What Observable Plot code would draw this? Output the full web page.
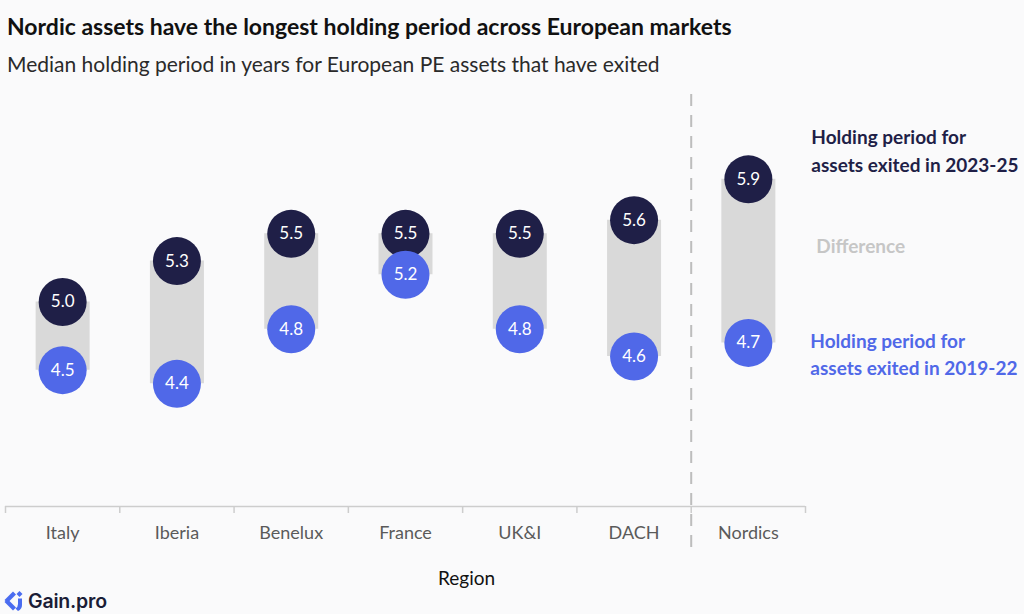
<!DOCTYPE html>
<html>
<head>
<meta charset="utf-8">
<script src="https://cdn.jsdelivr.net/npm/d3@7"></script>
<script src="https://cdn.jsdelivr.net/npm/@observablehq/plot@0.6"></script>
<style>
  html, body { margin: 0; padding: 0; background: #fafafb; }
  body { width: 1024px; height: 614px; position: relative; overflow: hidden; font-family: Lato, "Noto Sans", sans-serif; }
  #title { position: absolute; left: 7px; top: 12px; font-size: 23px; font-weight: 700; color: #111; white-space: nowrap; }
  #subtitle { position: absolute; left: 7px; top: 51px; font-size: 21px; color: #2a2a2a; white-space: nowrap; }
  #chart { position: absolute; left: 0; top: 84px; }
  #logo { position: absolute; left: 3px; top: 589px; display: flex; align-items: center; gap: 4px; }
  #logo span { font-family: Inter, Lato, sans-serif; font-weight: 600; font-size: 19.5px; color: #1b1d36; letter-spacing: -0.2px; }
</style>
</head>
<body>
<div id="title">Nordic assets have the longest holding period across European markets</div>
<div id="subtitle">Median holding period in years for European PE assets that have exited</div>
<div id="chart"></div>
<div id="logo">
  <svg width="21" height="22" viewBox="0 0 21 22">
    <path d="M10 1.5 L1.5 10 L4.5 13 L13 4.5 Z" fill="#4a6cf0"/>
    <path d="M1.5 12 L10 20.5 L13 17.5 L4.5 9 Z" fill="#4a6cf0"/>
    <path d="M16.5 1 L19.5 4 L16.5 7 L13.5 4 Z" fill="#4a6cf0"/>
    <path d="M15 8.5 L19 8.5 L19 15 Q19 19 15 21 L12.5 18.5 Q15 17 15 14 Z" fill="#4a6cf0"/>
  </svg>
  <span>Gain.pro</span>
</div>
<script>
// Median holding period (years) by region
const categories = ["Italy", "Iberia", "Benelux", "France", "UK&I", "DACH", "Nordics"];
const recent = [5.0, 5.3, 5.5, 5.5, 5.5, 5.6, 5.9];   // assets exited 2023-25
const earlier = [4.5, 4.4, 4.8, 5.2, 4.8, 4.6, 4.7];  // assets exited 2019-22

const legendRecent = "Holding period for\nassets exited in 2023-25";
const legendEarlier = "Holding period for\nassets exited in 2019-22";
const legendDiff = "Difference";
const axisTitle = "Region";

const navy = "#1f1f47";
const blue = "#5068e8";
const font = "Lato, 'Noto Sans', sans-serif";

// Each region sits in the middle of a unit-wide slot on a linear x scale
const rows = categories.map((region, i) => ({
  region, pos: i + 0.5, recent: recent[i], earlier: earlier[i], mid: (recent[i] + earlier[i]) / 2
}));
const boundaries = d3.range(categories.length + 1);
const centers = rows.map(d => d.pos);
const last = [rows[rows.length - 1]];

const chart = Plot.plot({
  width: 1024,
  height: 512,
  marginLeft: 5,
  marginRight: 219,
  marginTop: 13,
  marginBottom: 90,
  style: { background: "transparent", fontFamily: font },
  x: { type: "linear", domain: [0, categories.length], axis: null },
  y: { domain: [3.5, 6.5], axis: null },
  marks: [
    // separator between the Nordics and the rest
    Plot.ruleX([categories.length - 1], { stroke: "#bdbdbd", strokeWidth: 2, strokeDasharray: "12,9", insetTop: -3, insetBottom: -44 }),
    // baseline and slot boundary ticks
    Plot.ruleY([3.5], { stroke: "#cdcdcd", strokeWidth: 1.5 }),
    Plot.axisX(boundaries, { tickSize: 7, tickFormat: () => "", stroke: "#cdcdcd", strokeWidth: 1.5, label: null }),
    // region names
    Plot.axisX(centers, {
      tickSize: 0, tickPadding: 20, tickFormat: d => categories[Math.floor(d)],
      fontSize: 18, fill: "#5a5a5a", label: null
    }),
    // difference bars
    Plot.ruleX(rows, { x: "pos", y1: "earlier", y2: "recent", stroke: "#d9d9d9", strokeWidth: 54 }),
    // 2023-25 values
    Plot.dot(rows, { x: "pos", y: "recent", r: 24, fill: navy, stroke: null }),
    Plot.text(rows, { x: "pos", y: "recent", text: d => d.recent.toFixed(1), fill: "white", fontSize: 17 }),
    // 2019-22 values
    Plot.dot(rows, { x: "pos", y: "earlier", r: 24, fill: blue, stroke: null }),
    Plot.text(rows, { x: "pos", y: "earlier", text: d => d.earlier.toFixed(1), fill: "white", fontSize: 17 }),
    // direct labels next to the Nordics
    Plot.text(last, { x: "pos", y: "recent", text: () => legendRecent, dx: 63, dy: -30, textAnchor: "start", lineHeight: 1.45, fontSize: 19, fontWeight: 700, fill: navy }),
    Plot.text(last, { x: "pos", y: "mid", text: () => legendDiff, dx: 68, dy: -14, textAnchor: "start", fontSize: 19, fontWeight: 700, fill: "#c6c6c6" }),
    Plot.text(last, { x: "pos", y: "earlier", text: () => legendEarlier, dx: 62, dy: 10, textAnchor: "start", lineHeight: 1.45, fontSize: 19, fontWeight: 700, fill: blue }),
    // axis title
    Plot.text([axisTitle], { frameAnchor: "bottom", lineAnchor: "middle", dx: 61, dy: 72, fontSize: 19, fill: "#111" })
  ]
});
document.getElementById("chart").appendChild(chart);
</script>
</body>
</html>
